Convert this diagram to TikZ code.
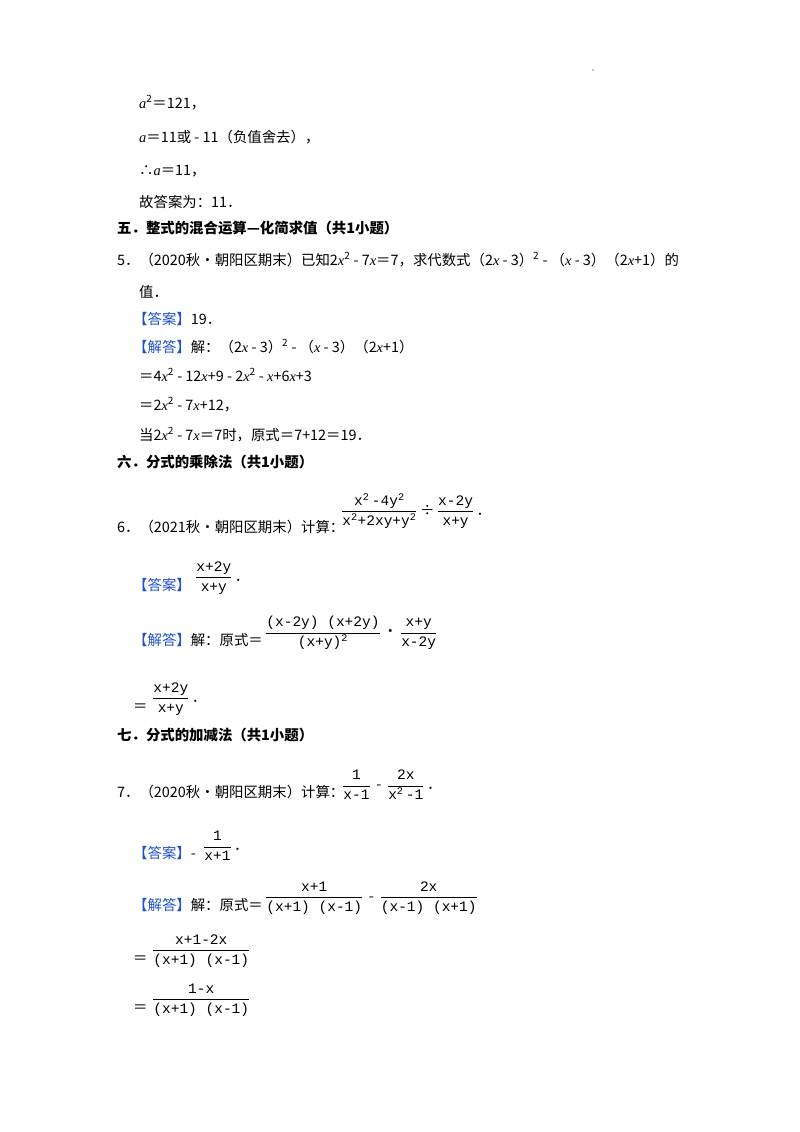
\documentclass[tikz,border=0pt]{standalone}
\usepackage{amsmath}
\usepackage{fontspec}
\setmainfont{Noto Sans CJK SC}
\newfontfamily\lat{Liberation Serif}
\newfontfamily\fr{Liberation Mono}
\newcommand{\mi}[1]{{\lat\itshape #1}}
\newcommand{\ans}{{\color{ansblue}【答案】}}
\newcommand{\sol}{{\color{ansblue}【解答】}}
\newcommand{\fra}[2]{{\fr$\dfrac{\text{#1}}{\text{#2}}$}}
\definecolor{ansblue}{RGB}{30,80,200}
\begin{document}
\begin{tikzpicture}[x=1pt,y=-1pt,
  txt/.style={anchor=base west,inner sep=0pt,font=\fontsize{14.4}{16}\selectfont},
  hd/.style={txt,font=\fontsize{14.4}{16}\selectfont\bfseries},
  fb/.style={anchor=west,inner sep=0pt,font=\fontsize{14.5}{16}\selectfont}]
\useasboundingbox (0,0) rectangle (800,1132);
\fill (593,70) circle (0.6);
\node[txt] (l1) at (139,108) {\mi{a}\textsuperscript{2}＝121，};
\node[txt] (l2) at (139,142) {\mi{a}＝11或 - 11（负值舍去），};
\node[txt] (l3) at (139,175) {∴\mi{a}＝11，};
\node[txt] (l4) at (139,207) {故答案为：11．};
\node[hd] (h5) at (117,233) {五．整式的混合运算—化简求值（共1小题）};
\node[txt] (q5) at (117,265) {5．（2020秋•朝阳区期末）已知2\mi{x}\textsuperscript{2} - 7\mi{x}＝7，求代数式（2\mi{x} - 3）\textsuperscript{2} - （\mi{x} - 3）（2\mi{x}+1）的};
\node[txt] (q5b) at (139,297) {值．};
\node[txt] (a5) at (133,324) {\ans 19．};
\node[txt] (s5) at (133,352) {\sol 解：（2\mi{x} - 3）\textsuperscript{2} - （\mi{x} - 3）（2\mi{x}+1）};
\node[txt] (s5a) at (139,381) {＝4\mi{x}\textsuperscript{2} - 12\mi{x}+9 - 2\mi{x}\textsuperscript{2} - \mi{x}+6\mi{x}+3};
\node[txt] (s5b) at (139,410) {＝2\mi{x}\textsuperscript{2} - 7\mi{x}+12，};
\node[txt] (s5c) at (139,440) {当2\mi{x}\textsuperscript{2} - 7\mi{x}＝7时，原式＝7+12＝19．};
\node[hd] (h6) at (117,467) {六．分式的乘除法（共1小题）};
\node[txt] (q6) at (117,532) {6．（2021秋•朝阳区期末）计算：};
\node[fb] (q6f) at (341,511) {\fra{x\textsuperscript{2}\,-4y\textsuperscript{2}}{x\textsuperscript{2}+2xy+y\textsuperscript{2}}\,÷\,\fra{x-2y}{x+y}\,．};
\node[txt] (a6) at (133,590) {\ans};
\node[fb] (a6f) at (195,578) {\fra{x+2y}{x+y}\,．};
\node[txt] (s6) at (133,645) {\sol 解：原式＝};
\node[fb] (s6f) at (265,633) {\fra{(x-2y) (x+2y)}{(x+y)\textsuperscript{2}}\,•\,\fra{x+y}{x-2y}};
\node[txt] (s6a) at (133,711) {＝};
\node[fb] (s6af) at (152,699) {\fra{x+2y}{x+y}\,．};
\node[hd] (h7) at (117,740) {七．分式的加减法（共1小题）};
\node[txt] (q7) at (117,797) {7．（2020秋•朝阳区期末）计算：};
\node[fb] (q7f) at (342,785) {\fra{1}{x-1}\, - \,\fra{2x}{x\textsuperscript{2}\,-1}\,．};
\node[txt] (a7) at (133,858) {\ans - };
\node[fb] (a7f) at (203,846) {\fra{1}{x+1}\,．};
\node[txt] (s7) at (133,910) {\sol 解：原式＝};
\node[fb] (s7f) at (265,898) {\fra{x+1}{(x+1) (x-1)}\, - \,\fra{2x}{(x-1) (x+1)}};
\node[txt] (s7a) at (133,963) {＝};
\node[fb] (s7af) at (152,951) {\fra{x+1-2x}{(x+1) (x-1)}};
\node[txt] (s7b) at (133,1012) {＝};
\node[fb] (s7bf) at (152,1000) {\fra{1-x}{(x+1) (x-1)}};
\end{tikzpicture}
\end{document}
